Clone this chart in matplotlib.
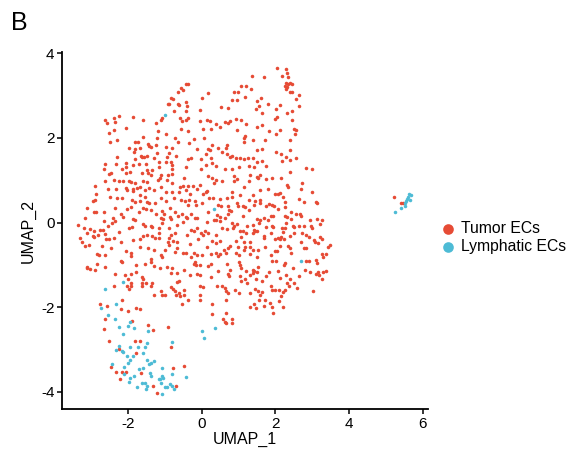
import numpy as np
import matplotlib.pyplot as plt

plt.rcParams['font.family'] = ['Liberation Sans', 'DejaVu Sans']
plt.rcParams['axes.unicode_minus'] = False

# UMAP coordinates (approximate), grouped by area
tumor_upper_left = [
    (-0.43, 3.27), (-0.37, 3.26), (-0.55, 3.18), (-0.52, 3.14), (-0.65, 3.08),
    (-0.84, 2.95), (-0.79, 2.92), (-0.88, 2.81), (-0.91, 2.79), (-0.64, 2.81),
    (-0.61, 2.78), (-0.43, 2.84), (-0.41, 2.74), (-0.76, 2.64), (-0.42, 2.63),
    (-0.05, 2.65), (-0.59, 2.48), (-0.53, 2.40), (-0.37, 2.48), (-0.43, 2.41),
    (-1.08, 2.46), (-1.11, 2.41), (-1.24, 2.34), (-1.60, 2.42), (-1.88, 2.49),
    (-2.25, 2.52), (-2.38, 2.46), (-2.36, 2.38), (-2.62, 2.41), (-2.58, 2.34),
    (-2.05, 2.24), (-2.38, 2.19), (-2.53, 2.11), (-1.18, 2.16), (-0.97, 2.08),
    (-0.57, 2.21), (-0.37, 2.16), (-0.05, 2.40), (-1.60, 2.03), (-1.21, 2.00),
    (-0.73, 1.99), (-2.31, 1.95), (-2.49, 1.91), (-1.82, 1.91), (-1.73, 1.91),
    (-0.64, 1.89), (-0.35, 1.88), (-0.22, 1.97), (-1.46, 1.85), (-1.42, 1.80),
    (-1.39, 1.78), (-1.25, 1.82), (-0.96, 1.78), (-0.81, 1.77), (-1.98, 1.76),
    (-1.82, 1.74), (-1.69, 1.75), (-0.12, 1.74), (-1.84, 1.67), (-1.22, 1.64),
    (-0.88, 1.64), (-2.29, 1.55), (-1.66, 1.57), (-1.61, 1.54), (-1.57, 1.54),
    (-1.48, 1.56), (-1.31, 1.52), (-0.93, 1.55), (-0.70, 1.58), (-0.37, 1.49),
    (-0.28, 1.52), (-1.80, 1.50), (-2.64, 1.39), (-2.33, 1.39), (-2.07, 1.41),
    (-1.87, 1.37), (-1.71, 1.38), (-1.51, 1.38), (-1.17, 1.42), (-1.17, 1.30),
    (-0.97, 1.42), (-0.84, 1.44), (-0.81, 1.36), (-0.43, 1.31), (-0.03, 1.50),
    (-2.65, 1.27), (-2.16, 1.27), (-2.07, 1.30), (-1.50, 1.25), (-1.35, 1.25),
    (-0.82, 1.27),
]

tumor_upper_right = [
    (2.05, 3.64), (2.28, 3.62), (2.32, 3.53), (2.19, 3.45), (2.34, 3.44),
    (1.36, 3.47), (1.70, 3.44), (2.30, 3.30), (2.39, 3.30), (2.34, 3.26),
    (2.45, 3.28), (2.25, 3.22), (2.32, 3.20), (2.28, 3.15), (1.07, 3.22),
    (1.21, 3.22), (1.34, 3.15), (2.41, 3.09), (2.46, 3.08), (0.18, 3.07),
    (0.87, 3.09), (0.98, 3.08), (2.63, 3.00), (1.18, 2.97), (1.61, 2.95),
    (0.00, 2.93), (2.55, 2.91), (0.83, 2.90), (0.96, 2.89), (1.50, 2.87),
    (2.64, 2.76), (1.56, 2.76), (1.81, 2.80), (2.12, 2.78), (0.53, 2.73),
    (0.72, 2.71), (1.47, 2.67), (2.02, 2.67), (2.46, 2.63), (2.32, 2.59),
    (1.65, 2.59), (2.05, 2.49), (1.99, 2.44), (2.46, 2.41), (0.14, 2.41),
    (0.22, 2.40), (0.40, 2.32), (0.49, 2.26), (0.62, 2.38), (0.71, 2.35),
    (0.78, 2.40), (0.92, 2.44), (1.07, 2.41), (1.20, 2.32), (1.50, 2.26),
    (1.63, 2.30), (0.04, 2.21), (0.24, 2.21), (0.96, 2.18), (1.83, 2.15),
    (2.03, 2.10), (2.14, 2.18), (2.52, 2.21), (2.57, 2.19), (2.54, 2.10),
    (1.18, 2.05), (1.16, 1.99), (1.14, 1.91), (1.39, 1.96), (1.72, 1.95),
    (0.07, 2.00), (2.41, 1.95), (0.69, 1.83), (0.67, 1.77), (0.29, 1.82),
    (0.43, 1.77), (0.18, 1.74), (0.22, 1.72), (1.49, 1.72), (1.65, 1.74),
    (2.39, 1.72), (0.56, 1.67), (0.69, 1.63), (0.11, 1.61), (2.03, 1.66),
    (2.16, 1.63), (0.78, 1.55), (0.83, 1.56), (0.94, 1.53), (1.05, 1.53),
    (1.16, 1.49), (1.27, 1.52), (1.38, 1.53), (2.28, 1.55), (2.57, 1.52),
    (0.25, 1.53), (1.50, 1.44), (1.63, 1.45), (2.19, 1.45), (2.41, 1.47),
    (0.11, 1.36), (0.38, 1.33), (0.29, 1.41), (1.29, 1.33), (1.41, 1.30),
    (1.76, 1.33), (2.84, 1.28), (2.99, 1.27), (-0.02, 1.27), (0.63, 1.27),
    (0.83, 1.27), (1.00, 1.30),
]

tumor_middle_left = [
    (-2.51, 1.15), (-2.46, 1.16), (-2.07, 1.17), (-1.95, 1.19), (-1.62, 1.16),
    (-1.46, 1.18), (-1.39, 1.13), (-1.10, 1.12), (-0.91, 1.12), (-0.81, 1.15),
    (-0.48, 1.05), (-2.89, 0.86), (-2.62, 0.99), (-2.38, 1.01), (-2.24, 0.97),
    (-2.13, 0.97), (-1.97, 0.99), (-1.91, 0.96), (-1.82, 0.94), (-1.59, 0.97),
    (-1.50, 0.96), (-1.20, 1.01), (-1.13, 1.04), (-0.93, 1.01), (-0.81, 0.94),
    (-0.59, 0.85), (-0.52, 0.86), (-0.37, 0.86), (-0.24, 0.86), (-0.06, 0.88),
    (-2.56, 0.79), (-2.33, 0.79), (-2.07, 0.82), (-2.02, 0.77), (-1.87, 0.79),
    (-1.86, 0.74), (-1.75, 0.82), (-1.69, 0.83), (-1.55, 0.77), (-1.42, 0.82),
    (-1.30, 0.77), (-1.11, 0.85), (-0.97, 0.72), (-0.82, 0.71), (-0.62, 0.72),
    (-0.44, 0.77), (-0.32, 0.68), (-0.14, 0.79), (-2.86, 0.68), (-2.49, 0.61),
    (-2.31, 0.58), (-2.16, 0.57), (-1.68, 0.64), (-1.55, 0.60), (-1.89, 0.53),
    (-1.80, 0.49), (-1.69, 0.50), (-1.48, 0.49), (-1.42, 0.46), (-1.28, 0.47),
    (-1.10, 0.57), (-0.97, 0.52), (-0.75, 0.57), (-0.55, 0.53), (-0.46, 0.52),
    (-0.17, 0.52), (-2.96, 0.52), (-2.91, 0.53), (-3.11, 0.35), (-2.93, 0.24),
    (-2.87, 0.24), (-2.65, 0.25), (-2.35, 0.35), (-2.20, 0.19), (-2.02, 0.33),
    (-1.93, 0.36), (-1.71, 0.25), (-1.60, 0.35), (-1.51, 0.33), (-1.39, 0.30),
    (-1.24, 0.20), (-1.08, 0.27), (-1.02, 0.20), (-0.86, 0.35), (-0.73, 0.24),
    (-0.64, 0.16), (-0.53, 0.20), (-0.43, 0.14), (-0.30, 0.20), (-0.19, 0.11),
    (-0.37, 0.41), (-0.34, 0.53), (-3.18, 0.11), (-2.65, 0.03), (-2.40, 0.11),
    (-2.36, 0.03), (-2.13, 0.13), (-1.88, 0.09), (-1.82, 0.06), (-1.59, -0.03),
    (-1.55, -0.08), (-1.39, -0.08), (-1.35, -0.11), (-1.11, 0.11), (-1.04, 0.08),
    (-1.08, 0.00), (-0.86, 0.14), (-0.84, 0.08), (-0.12, 0.11), (-3.36, -0.06),
    (-3.20, -0.14), (-3.03, -0.16), (-2.94, -0.19), (-2.76, -0.17), (-2.67, -0.17),
    (-2.55, -0.09), (-2.44, 0.00), (-2.24, -0.22), (-1.98, -0.14), (-1.89, -0.11),
    (-1.15, -0.14), (-0.90, -0.13), (-0.68, -0.06), (-0.50, 0.02), (-0.41, 0.11),
    (-0.30, -0.17), (-3.13, -0.25), (-2.96, -0.31), (-2.93, -0.33), (-2.82, -0.30),
    (-3.32, -0.36), (-2.63, -0.28), (-2.60, -0.38), (-2.51, -0.39), (-2.38, -0.36),
    (-2.20, -0.46), (-1.88, -0.42), (-1.69, -0.39), (-1.59, -0.31), (-1.50, -0.30),
    (-1.35, -0.31), (-1.28, -0.36), (-1.17, -0.25), (-1.15, -0.36), (-0.84, -0.30),
    (-0.88, -0.36), (-0.72, -0.25), (-0.41, -0.30), (-0.21, -0.20), (-0.10, -0.39),
    (-3.25, -0.47), (-3.16, -0.55), (-3.07, -0.52), (-2.71, -0.55), (-2.47, -0.60),
    (-2.06, -0.68), (-1.93, -0.71), (-1.68, -0.57), (-1.46, -0.60), (-1.31, -0.66),
    (-1.10, -0.77), (-1.08, -0.82), (-0.99, -0.65), (-0.92, -0.47), (-0.88, -0.53),
    (-0.79, -0.44), (-0.68, -0.46), (-0.66, -0.61), (-0.73, -0.69), (-0.52, -0.72),
    (-0.43, -0.71), (-0.33, -0.50), (-0.30, -0.82), (-0.21, -0.71), (-0.14, -0.77),
    (-2.85, -0.74), (-2.80, -0.77), (-2.62, -0.77), (-2.20, -0.90), (-2.16, -0.94),
    (-1.91, -0.79), (-1.78, -1.01), (-1.39, -0.85), (-1.37, -0.93), (-1.55, -0.99),
    (-1.31, -1.02), (-2.85, -0.97), (-3.13, -1.04), (-3.11, -1.08), (-3.03, -1.10),
    (-2.91, -1.13), (-2.64, -1.05), (-1.13, -1.08), (-0.95, -1.05), (-0.81, -1.08),
    (-0.84, -1.19), (-0.66, -1.19), (-0.48, -1.12), (-0.32, -1.23), (-0.21, -0.97),
    (-0.15, -1.01), (-0.05, -1.01), (-0.14, -1.21), (-0.05, -1.24), (-2.36, -1.21),
    (-2.09, -1.23), (-1.91, -1.21), (-1.78, -1.18), (-1.62, -1.29), (-1.60, -1.34),
    (-2.00, -1.34), (-1.93, -1.42), (-1.62, -1.43), (-1.51, -1.42), (-1.35, -1.43),
    (-0.66, -1.40), (-0.62, -1.37),
]

tumor_middle_right = [
    (0.18, 1.10), (0.29, 1.05), (0.38, 1.01), (0.34, 0.94), (0.56, 0.99),
    (0.89, 1.10), (0.96, 1.02), (0.87, 0.97), (1.29, 0.99), (1.32, 1.13),
    (1.50, 1.08), (1.52, 1.04), (1.59, 1.13), (1.74, 1.02), (1.92, 1.04),
    (2.16, 1.04), (2.32, 0.88), (2.34, 0.85), (2.39, 1.19), (2.72, 0.94),
    (2.70, 0.79), (3.01, 0.71), (0.11, 0.72), (0.14, 0.74), (0.04, 0.68),
    (0.82, 0.71), (0.82, 0.61), (1.03, 0.65), (1.16, 0.85), (1.39, 0.66),
    (1.59, 0.77), (1.79, 0.80), (1.99, 0.68), (2.06, 0.68), (2.14, 0.69),
    (2.21, 0.61), (0.20, 0.58), (0.31, 0.57), (0.49, 0.55), (0.69, 0.57),
    (1.29, 0.53), (1.45, 0.50), (1.58, 0.47), (1.58, 0.53), (1.92, 0.42),
    (1.97, 0.39), (2.26, 0.49), (2.64, 0.55), (2.77, 0.49), (-0.16, 0.42),
    (0.02, 0.47), (0.43, 0.41), (0.52, 0.38), (0.72, 0.39), (0.74, 0.30),
    (0.96, 0.47), (0.98, 0.38), (1.11, 0.38), (1.18, 0.36), (1.29, 0.30),
    (1.41, 0.41), (1.76, 0.38), (1.83, 0.44), (2.07, 0.31), (2.26, 0.36),
    (3.10, 0.49), (3.13, 0.46), (0.18, 0.25), (0.42, 0.17), (0.49, 0.13),
    (0.62, 0.11), (0.80, 0.27), (0.72, 0.19), (1.11, 0.16), (1.50, 0.09),
    (1.59, 0.05), (1.70, 0.11), (1.81, 0.05), (1.87, 0.16), (1.94, 0.16),
    (2.26, 0.16), (2.32, 0.13), (2.43, 0.24), (2.43, 0.09), (2.57, 0.20),
    (2.68, 0.20), (2.70, 0.16), (2.94, 0.06), (3.13, 0.08), (3.22, -0.03),
    (3.28, 0.06), (0.14, 0.02), (0.33, 0.06), (0.40, 0.05), (0.49, 0.03),
    (0.82, 0.00), (0.89, -0.08), (0.85, -0.13), (0.96, -0.03), (1.23, -0.08),
    (1.38, -0.05), (1.56, -0.02), (1.76, -0.11), (1.90, -0.08), (2.30, 0.00),
    (2.48, -0.08), (2.64, -0.08), (2.77, -0.08), (2.97, -0.08), (3.01, -0.14),
    (-0.13, -0.13), (0.09, -0.19), (0.54, -0.14), (0.69, -0.16), (1.05, -0.19),
    (-0.02, -0.25), (0.04, -0.30), (0.18, -0.25), (0.40, -0.30), (1.07, -0.33),
    (1.12, -0.20), (1.20, -0.24), (1.41, -0.17), (1.45, -0.19), (1.50, -0.19),
    (1.39, -0.25), (1.68, -0.31), (1.68, -0.36), (1.88, -0.25), (1.94, -0.11),
    (2.19, -0.14), (2.25, -0.14), (2.16, -0.33), (2.21, -0.22), (2.41, -0.31),
    (2.52, -0.24), (2.52, -0.11), (1.99, -0.39), (2.06, -0.36), (2.12, -0.39),
    (2.23, -0.38), (2.72, -0.24), (2.83, -0.30), (2.92, -0.33), (3.22, -0.35),
    (3.26, -0.38), (0.27, -0.44), (0.40, -0.49), (0.49, -0.44), (0.13, -0.57),
    (0.72, -0.61), (0.76, -0.55), (0.94, -0.44), (0.98, -0.57), (1.14, -0.46),
    (1.18, -0.57), (1.30, -0.46), (1.32, -0.57), (1.72, -0.57), (2.14, -0.55),
    (2.35, -0.55), (2.39, -0.60), (2.70, -0.46), (2.79, -0.60), (2.83, -0.60),
    (3.04, -0.41), (3.08, -0.47), (3.17, -0.49), (3.44, -0.58), (3.48, -0.53),
    (0.00, -0.77), (0.25, -0.75), (0.38, -0.71), (0.45, -0.79), (0.51, -0.74),
    (0.60, -0.66), (0.65, -0.71), (0.92, -0.71), (1.00, -0.77), (1.16, -0.66),
    (1.32, -0.74), (1.38, -0.66), (1.50, -0.82), (1.54, -0.66), (1.87, -0.77),
    (1.99, -0.67), (2.05, -0.67), (1.92, -0.91), (2.02, -0.91), (2.26, -0.96),
    (2.43, -0.71), (2.83, -0.90), (2.92, -0.91), (3.10, -0.88), (3.13, -0.96),
    (3.28, -0.75), (3.30, -0.82), (3.37, -0.74), (-0.18, -0.94), (0.18, -1.02),
    (0.25, -0.97), (0.43, -1.15), (0.69, -0.97), (0.78, -1.13), (1.00, -0.94),
    (1.03, -1.01), (1.07, -1.07), (1.21, -1.15), (1.38, -1.13), (1.41, -1.15),
    (1.49, -1.18), (1.52, -1.05), (1.76, -1.27), (1.83, -1.18), (2.08, -1.15),
    (2.23, -1.01), (2.28, -1.23), (2.48, -1.07), (2.63, -1.26), (2.81, -1.12),
    (2.94, -1.18), (3.10, -1.21), (3.15, -1.16), (3.19, -1.24), (3.30, -1.16),
    (3.37, -1.15), (0.24, -1.29), (0.72, -1.21), (0.74, -1.26), (1.05, -1.26),
    (1.07, -1.38), (1.18, -1.34), (1.23, -1.43), (1.32, -1.24), (1.39, -1.19),
    (1.47, -1.34), (1.65, -1.37), (2.12, -1.32), (2.32, -1.42), (2.41, -1.34),
    (2.52, -1.43), (3.26, -1.34),
]

tumor_lower = [
    (-2.39, -1.49), (-2.03, -1.49), (-1.92, -1.50), (-1.61, -1.50), (-1.39, -1.49),
    (-1.97, -1.58), (-1.29, -1.72), (-1.11, -1.61), (-1.08, -1.71), (-1.00, -1.72),
    (-0.83, -1.52), (-0.78, -1.56), (-0.72, -1.61), (-0.71, -1.72), (-0.63, -1.67),
    (-0.58, -1.74), (-0.49, -1.60), (-0.47, -1.72), (-0.54, -1.93), (-0.38, -1.82),
    (-0.04, -1.50), (0.04, -1.53), (-0.04, -1.71), (-0.04, -1.82), (0.42, -1.50),
    (0.56, -1.50), (0.63, -1.55), (0.67, -1.61), (0.72, -1.66), (0.91, -1.60),
    (1.01, -1.67), (1.32, -1.66), (1.45, -1.56), (1.54, -1.61), (1.59, -1.72),
    (1.65, -1.63), (1.88, -1.50), (1.92, -1.60), (1.99, -1.60), (2.10, -1.60),
    (2.16, -1.74), (2.21, -1.63), (2.25, -1.60), (2.36, -1.49), (2.59, -1.55),
    (3.02, -1.61), (0.65, -1.82), (1.56, -1.82), (1.72, -1.83), (1.30, -2.00),
    (1.43, -1.93), (1.48, -2.01), (1.68, -1.96), (1.85, -1.91), (1.90, -1.99),
    (2.10, -1.86), (2.21, -1.99), (1.94, -2.13), (0.29, -1.93), (0.27, -2.16),
    (0.67, -2.13), (0.58, -2.27), (0.63, -2.35), (0.65, -2.38), (0.82, -2.27),
    (0.83, -2.37), (-2.77, -1.93), (-2.57, -1.96), (-2.64, -2.27), (-2.19, -2.05),
    (-1.99, -2.10), (-1.78, -2.01), (-1.67, -2.04), (-2.17, -1.82), (-2.66, -2.51),
    (-1.90, -2.32), (-1.47, -2.41), (-1.32, -2.54), (-0.91, -2.46), (-2.52, -2.79),
    (-1.81, -2.79), (-1.67, -2.79), (-0.83, -2.95), (-2.25, -2.98), (-1.79, -3.07),
    (-2.46, -3.42), (-2.32, -3.53), (-2.17, -3.52), (-2.07, -3.53), (-2.23, -3.69),
    (-1.65, -3.56), (-1.33, -3.86), (-1.22, -4.02), (-0.71, -3.85), (-0.77, -3.44),
    (-0.48, -3.39),
]

tumor_far_right = [(5.23, 0.60), (5.41, 0.45), (5.48, 0.47)]

lymph_main = [
    (-0.99, 2.53), (0.33, 0.31), (2.70, -0.91), (-2.13, -1.40), (-2.64, -1.57),
    (0.00, -2.56), (0.07, -2.73), (0.36, -2.48), (-2.75, -2.02), (-2.33, -1.93),
    (-2.54, -2.19), (-2.36, -2.27), (-2.26, -2.46), (-2.01, -2.45), (-1.95, -2.34),
    (-2.13, -2.63), (-1.85, -2.49), (-1.47, -2.55), (-1.49, -2.84), (-0.80, -2.82),
    (-2.32, -3.01), (-2.25, -2.92), (-2.17, -3.04), (-2.14, -3.06), (-1.95, -2.95),
    (-2.04, -3.14), (-1.72, -2.93), (-1.54, -2.93), (-1.59, -3.07), (-1.88, -3.16),
    (-1.94, -3.25), (-2.01, -3.31), (-1.49, -3.24), (-1.42, -3.33), (-1.30, -3.27),
    (-1.38, -3.31), (-2.45, -3.33), (-2.12, -3.42), (-2.12, -3.58), (-1.95, -3.66),
    (-1.85, -3.62), (-1.98, -3.77), (-1.76, -3.88), (-1.70, -3.47), (-1.59, -3.44),
    (-1.61, -3.80), (-1.54, -3.80), (-1.49, -3.86), (-1.52, -3.92), (-1.40, -3.55),
    (-1.38, -3.62), (-1.16, -3.70), (-1.13, -3.69), (-1.08, -3.44), (-1.08, -3.62),
    (-1.05, -3.67), (-1.11, -3.80), (-1.09, -4.05), (-0.99, -3.88), (-0.94, -3.88),
    (-0.85, -3.81), (-0.82, -3.86), (-0.76, -3.94), (-0.82, -3.58), (-0.42, -3.64),
]

lymph_far_right = [
    (5.64, 0.67), (5.68, 0.64), (5.61, 0.60), (5.59, 0.56), (5.66, 0.53),
    (5.55, 0.51), (5.53, 0.45), (5.52, 0.40), (5.42, 0.34), (5.26, 0.24),
]

tumor = np.array(tumor_upper_left + tumor_upper_right + tumor_middle_left
                 + tumor_middle_right + tumor_lower + tumor_far_right)
lymph = np.array(lymph_main + lymph_far_right)

red = '#E64B35'
cyan = '#4DBBD5'

fig = plt.figure(figsize=(5.71, 4.51), dpi=100)
ax = fig.add_axes([0.109, 0.0925, 0.64, 0.7925])

ax.scatter(tumor[:, 0], tumor[:, 1], s=6.5, c=red, linewidths=0, label='Tumor ECs')
ax.scatter(lymph[:, 0], lymph[:, 1], s=6.5, c=cyan, linewidths=0, label='Lymphatic ECs')

ax.set_xlim(-3.79, 6.14)
ax.set_ylim(-4.41, 4.03)
ax.set_xticks([-2, 0, 2, 4, 6])
ax.set_yticks([-4, -2, 0, 2, 4])

for side in ['top', 'right']:
    ax.spines[side].set_visible(False)
for side in ['left', 'bottom']:
    ax.spines[side].set_linewidth(1.3)
    ax.spines[side].set_color('black')
ax.tick_params(axis='both', length=3.5, width=1.1, labelsize=11, colors='black', pad=2)

ax.set_xlabel('UMAP_1', fontsize=11.5, labelpad=1)
ax.set_ylabel('UMAP_2', fontsize=11.5, labelpad=4)

leg = fig.legend(loc='center left', bbox_to_anchor=(0.756, 0.473), frameon=False,
                 fontsize=11.3, handletextpad=0.3, labelspacing=0.15,
                 markerscale=3.0, handlelength=1.1, borderpad=0)

fig.text(0.02, 0.975, 'B', fontsize=18, va='top', ha='left')

fig.savefig('out.png', dpi=100)
